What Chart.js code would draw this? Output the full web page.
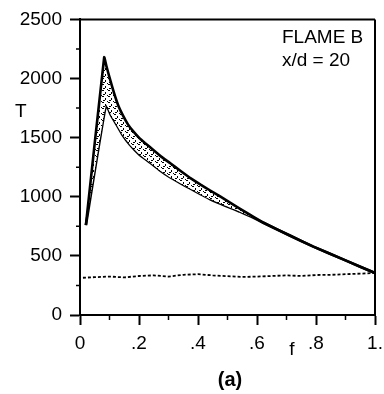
<!DOCTYPE html>
<html>
<head>
<meta charset="utf-8">
<script src="https://cdn.jsdelivr.net/npm/chart.js@4/dist/chart.umd.min.js"></script>
<style>
  html, body { margin: 0; padding: 0; background: #fff; }
  #wrap { width: 384px; height: 394px; }
</style>
</head>
<body>
<div id="wrap"><canvas id="myChart" width="384" height="394"></canvas></div>
<script>
// upper edge of the shaded band (f, T)
const upperF = [0.02, 0.082, 0.09, 0.1, 0.115, 0.13, 0.145, 0.163, 0.18, 0.2, 0.22, 0.237, 0.27, 0.305, 0.34, 0.373, 0.41, 0.44, 0.475, 0.51, 0.54, 0.58, 0.621, 0.712, 0.791, 0.9, 1.0];
const upperT = [760, 2180, 2100, 2010, 1880, 1770, 1690, 1610, 1555, 1500, 1455, 1420, 1350, 1285, 1220, 1160, 1100, 1055, 1003, 948, 902, 842, 782, 672, 578, 462, 355];
// lower edge of the shaded band
const lowerF = [0.02, 0.088, 0.105, 0.124, 0.145, 0.169, 0.2, 0.237, 0.27, 0.305, 0.34, 0.373, 0.41, 0.44, 0.475, 0.51, 0.54, 0.58, 0.621, 0.712, 0.791, 0.9, 1.0];
const lowerT = [760, 1780, 1690, 1610, 1520, 1440, 1360, 1290, 1225, 1165, 1115, 1070, 1020, 980, 942, 906, 876, 832, 780, 670, 578, 462, 355];
// air / coflow line near the bottom
const baseF = [0.01, 0.05, 0.1, 0.15, 0.2, 0.25, 0.3, 0.35, 0.4, 0.45, 0.5, 0.55, 0.6, 0.65, 0.7, 0.75, 0.8, 0.85, 0.9, 0.95, 1.0];
const baseT = [315, 320, 325, 318, 330, 335, 325, 340, 345, 335, 328, 322, 325, 330, 335, 330, 338, 340, 345, 350, 355];

const yTicks = [0, 500, 1000, 1500, 2000, 2500];
const xTickLabels = { 0: '0', 2: '.2', 4: '.4', 6: '.6', 8: '.8', 10: '1.' };

function pts(fs, ts) {
    return fs.map((f, i) => ({ x: f, y: ts[i] }));
}

// stipple pattern for the band
function stipple() {
    let pc = document.createElement('canvas');
    pc.width = 6; pc.height = 6;
    let c = pc.getContext('2d');
    c.fillStyle = '#fff';
    c.fillRect(0, 0, 6, 6);
    c.fillStyle = '#000';
    c.fillRect(0, 0, 2, 1);
    c.fillRect(3, 2, 1, 2);
    c.fillRect(1, 4, 2, 1);
    c.fillRect(5, 5, 1, 1);
    return c.createPattern(pc, 'repeat');
}

const frame = {
    id: 'frame',
    afterDraw(chart) {
        const ctx = chart.ctx;
        const a = chart.chartArea;
        const xs = chart.scales.x, ys = chart.scales.y;
        ctx.save();
        ctx.strokeStyle = '#000';
        ctx.lineWidth = 2;
        ctx.beginPath();
        ctx.moveTo(a.left, a.top);
        ctx.lineTo(a.right, a.top);
        ctx.moveTo(a.right, a.top);
        ctx.lineTo(a.right, a.bottom);
        ctx.stroke();
        // minor ticks
        ctx.lineWidth = 1.5;
        ctx.beginPath();
        for (let v = 250; v < 2500; v += 500) {
            const y = ys.getPixelForValue(v);
            ctx.moveTo(a.left - 4, y);
            ctx.lineTo(a.left, y);
        }
        for (let k = 1; k < 10; k += 2) {
            const x = xs.getPixelForValue(k / 10);
            ctx.moveTo(x, a.bottom);
            ctx.lineTo(x, a.bottom + 5);
        }
        ctx.stroke();
        // texts
        ctx.fillStyle = '#000';
        ctx.font = '19px "Liberation Sans", Arial, sans-serif';
        ctx.textAlign = 'left';
        ctx.textBaseline = 'alphabetic';
        ctx.fillText('FLAME B', 282, 43);
        ctx.fillText('x/d = 20', 282, 66);
        ctx.fillText('T', 15, 117);
        ctx.textAlign = 'center';
        ctx.fillText('f', 292, 355);
        ctx.font = 'bold 20px "Liberation Sans", Arial, sans-serif';
        ctx.fillText('(a)', 230, 386);
        ctx.restore();
    }
};

window.onload = function () {
    const ctx = document.getElementById('myChart');
    const tickFont = { family: '"Liberation Sans", Arial, sans-serif', size: 19 };
    new Chart(ctx, {
        type: 'line',
        data: {
            datasets: [{
                data: pts(upperF, upperT),
                borderColor: '#000',
                borderWidth: 2.6,
                pointRadius: 0,
                tension: 0.1,
                fill: '+1',
                backgroundColor: stipple()
            }, {
                data: pts(lowerF, lowerT),
                borderColor: '#000',
                borderWidth: 2.6,
                pointRadius: 0,
                tension: 0.1,
                fill: false
            }, {
                data: pts(baseF, baseT),
                borderColor: '#000',
                borderWidth: 1.8,
                borderDash: [3, 2],
                pointRadius: 0,
                fill: false
            }]
        },
        options: {
            responsive: false,
            animation: false,
            layout: { padding: { left: 10, top: 18, right: 9, bottom: 0 } },
            plugins: { legend: { display: false }, tooltip: { enabled: false } },
            scales: {
                x: {
                    type: 'linear',
                    min: 0,
                    max: 1,
                    afterFit: s => { s.height = 79; s.paddingRight = 0; s.paddingLeft = 0; },
                    ticks: {
                        stepSize: 0.1,
                        autoSkip: false,
                        maxRotation: 0,
                        padding: 7,
                        color: '#000',
                        font: tickFont,
                        callback: v => {
                            const k = Math.round(v * 10);
                            return xTickLabels[k] !== undefined ? xTickLabels[k] : '';
                        }
                    },
                    grid: {
                        drawOnChartArea: false,
                        tickLength: 10,
                        tickWidth: 2,
                        tickColor: c => (c.tick && Math.round(c.tick.value * 10) % 2 === 0) ? '#000' : 'rgba(0,0,0,0)'
                    },
                    border: { color: '#000', width: 2 }
                },
                y: {
                    min: 0,
                    max: 2500,
                    afterFit: s => { s.width = 70; },
                    ticks: {
                        stepSize: 500,
                        autoSkip: false,
                        padding: 8,
                        color: '#000',
                        font: tickFont,
                        callback: v => yTicks.includes(v) ? String(v) : ''
                    },
                    grid: {
                        drawOnChartArea: false,
                        tickLength: 10,
                        tickWidth: 2,
                        tickColor: '#000'
                    },
                    border: { color: '#000', width: 2 }
                }
            }
        },
        plugins: [frame]
    });
};
</script>
</body>
</html>
